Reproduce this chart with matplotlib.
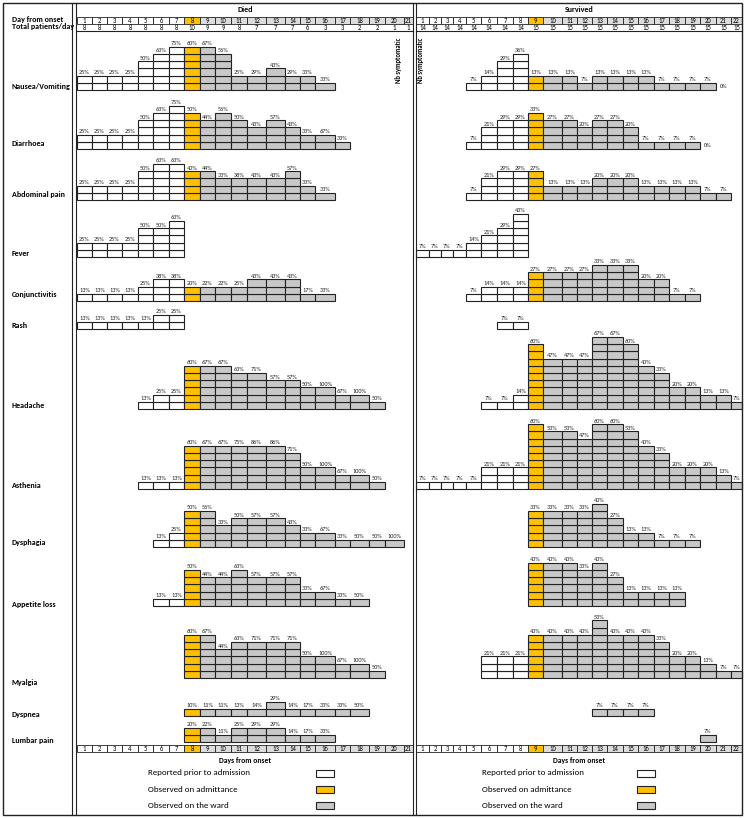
import numpy as np
import matplotlib
matplotlib.use('Agg')
import matplotlib.pyplot as plt
import matplotlib.font_manager as fm
from matplotlib.patches import Rectangle


def set_font():
    """按优先级尝试几种接近 Calibri 的字体"""
    for font in ['Carlito', 'Lato', 'Open Sans', 'DejaVu Sans']:
        try:
            fm.findfont(font, fallback_to_default=False)
            plt.rcParams['font.family'] = [font, 'DejaVu Sans']
            return font
        except Exception:
            continue


_ = None  # 该天无数据

# ---- 数据 ----
died_days = list(range(1, 22))
surv_days = list(range(1, 23))
died_total = [8, 8, 8, 8, 8, 8, 8, 10, 9, 9, 8, 7, 7, 7, 6, 3, 3, 2, 2, 1, 1]
surv_total = [14, 14, 14, 14, 14, 14, 14, 14, 15, 15, 15, 15, 15, 15, 15, 15, 15, 15, 15, 15, 15, 15]
died_admit_day = 8
surv_admit_day = 9

symptoms = ['Nausea/Vomiting', 'Diarrhoea', 'Abdominal pain', 'Fever', 'Conjunctivitis',
            'Rash', 'Headache', 'Asthenia', 'Dysphagia', 'Appetite loss', 'Myalgia',
            'Dyspnea', 'Lumbar pain']

# 百分比 (%), 按发病天数排列
nausea_died = [25, 25, 25, 25, 50, 63, 75, 60, 67, 56, 25, 29, 43, 29, 33, 33, _, _, _, _, _]
nausea_surv = [_, _, _, _, 7, 14, 29, 36, 13, 13, 13, 7, 13, 13, 13, 13, 7, 7, 7, 7, 0, _]
diarrhoea_died = [25, 25, 25, 25, 50, 63, 75, 50, 44, 56, 50, 43, 57, 43, 33, 67, 33, _, _, _, _]
diarrhoea_surv = [_, _, _, _, 7, 21, 29, 29, 33, 27, 27, 20, 27, 27, 20, 7, 7, 7, 7, 0, _, _]
abdominal_died = [25, 25, 25, 25, 50, 63, 63, 40, 44, 33, 38, 43, 43, 57, 33, 33, _, _, _, _, _]
abdominal_surv = [_, _, _, _, 7, 21, 29, 29, 27, 13, 13, 13, 20, 20, 20, 13, 13, 13, 13, 7, 7, _]
fever_died = [25, 25, 25, 25, 50, 50, 63, _, _, _, _, _, _, _, _, _, _, _, _, _, _]
fever_surv = [7, 7, 7, 7, 14, 21, 29, 43, _, _, _, _, _, _, _, _, _, _, _, _, _, _]
conj_died = [13, 13, 13, 13, 25, 38, 38, 20, 22, 22, 25, 43, 43, 43, 17, 33, _, _, _, _, _]
conj_surv = [_, _, _, _, 7, 14, 14, 14, 27, 27, 27, 27, 33, 33, 33, 20, 20, 7, 7, _, _, _]
rash_died = [13, 13, 13, 13, 13, 25, 25, _, _, _, _, _, _, _, _, _, _, _, _, _, _]
rash_surv = [_, _, _, _, _, _, 7, 7, _, _, _, _, _, _, _, _, _, _, _, _, _, _]
headache_died = [_, _, _, _, 13, 25, 25, 60, 67, 67, 63, 71, 57, 57, 50, 100, 67, 100, 50, _, _]
headache_surv = [_, _, _, _, _, 7, 7, 14, 60, 47, 47, 47, 67, 67, 60, 40, 33, 20, 20, 13, 13, 7]
asthenia_died = [_, _, _, _, 13, 13, 13, 60, 67, 67, 75, 86, 86, 71, 50, 100, 67, 100, 50, _, _]
asthenia_surv = [7, 7, 7, 7, 7, 21, 21, 21, 60, 53, 53, 47, 60, 60, 53, 40, 33, 20, 20, 20, 13, 7]
dysphagia_died = [_, _, _, _, _, 13, 25, 50, 56, 33, 50, 57, 57, 43, 33, 67, 33, 50, 50, 100, _]
dysphagia_surv = [_, _, _, _, _, _, _, _, 33, 33, 33, 33, 40, 27, 13, 13, 7, 7, 7, _, _, _]
appetite_died = [_, _, _, _, _, 13, 13, 50, 44, 44, 63, 57, 57, 57, 33, 67, 33, 50, _, _, _]
appetite_surv = [_, _, _, _, _, _, _, _, 40, 40, 40, 33, 40, 27, 13, 13, 13, 13, _, _, _, _]
myalgia_died = [_, _, _, _, _, _, _, 60, 67, 44, 63, 71, 71, 71, 50, 100, 67, 100, 50, _, _]
myalgia_surv = [_, _, _, _, _, 21, 21, 21, 40, 40, 40, 40, 53, 40, 40, 40, 33, 20, 20, 13, 7, 7]
dyspnea_died = [_, _, _, _, _, _, _, 10, 11, 11, 13, 14, 29, 14, 17, 33, 33, 50, _, _, _]
dyspnea_surv = [_, _, _, _, _, _, _, _, _, _, _, _, 7, 7, 7, 7, _, _, _, _, _, _]
lumbar_died = [_, _, _, _, _, _, _, 20, 22, 11, 25, 29, 29, 14, 17, 33, _, _, _, _, _]
lumbar_surv = [_, _, _, _, _, _, _, _, _, _, _, _, _, _, _, _, _, _, _, 7, _, _]

died_rows = [nausea_died, diarrhoea_died, abdominal_died, fever_died, conj_died, rash_died,
             headache_died, asthenia_died, dysphagia_died, appetite_died, myalgia_died,
             dyspnea_died, lumbar_died]
surv_rows = [nausea_surv, diarrhoea_surv, abdominal_surv, fever_surv, conj_surv, rash_surv,
             headache_surv, asthenia_surv, dysphagia_surv, appetite_surv, myalgia_surv,
             dyspnea_surv, lumbar_surv]

legend_labels = ['Reported prior to admission', 'Observed on admittance', 'Observed on the ward']

# ---- 版式 (像素坐标) ----
W, H = 746, 818
DIED_EDGES = [77, 92, 107, 122, 138, 153, 169, 184, 200, 215, 231, 247, 266, 285, 300,
              315, 335, 350, 369, 385, 404, 413]
SURV_EDGES = [416, 429, 441, 453, 466, 481, 497, 513, 528, 543, 562, 577, 592, 607, 623,
              638, 654, 669, 685, 700, 716, 731, 742]
BASELINES = [90, 149, 200, 257, 301, 329, 409, 489, 547, 606, 678, 716, 742]
LABEL_Y = [86, 144, 195, 253, 295, 326, 405, 485, 542, 604, 683, 715, 740]
CELL_H = 7.2
WHITE, ORANGE, GRAY, HEAD_GRAY = 'white', '#FFC000', '#C8C8C8', '#DCDCDC'
EDGE = '#222222'
FS_PCT = 4.5
FS_LAB = 5.8


def day_color(day, admit, ward=GRAY):
    if day < admit:
        return WHITE
    if day == admit:
        return ORANGE
    return ward


def draw_day_row(ax, edges, days, admit, y0, y1):
    lefts = np.array(edges[:-1], dtype=float)
    widths = np.diff(edges).astype(float)
    cols = [day_color(d, admit, HEAD_GRAY) for d in days]
    ax.bar(lefts, y1 - y0, width=widths, bottom=y0, align='edge', color=cols,
           edgecolor=EDGE, linewidth=0.6)
    for x, w, d in zip(lefts, widths, days):
        ax.text(x + w / 2, (y0 + y1) / 2 + 0.3, str(d), ha='center', va='center',
                fontsize=4.8)


def draw_panel(ax, edges, days, totals, rows, admit, title):
    lefts = np.array(edges[:-1], dtype=float)
    widths = np.diff(edges).astype(float)
    centers = lefts + widths / 2
    colors = [day_color(d, admit) for d in days]

    for pcts, base in zip(rows, BASELINES):
        counts = [None if p is None else int(p * n / 100 + 0.5) for p, n in zip(pcts, totals)]
        top = max(c for c in counts if c is not None)
        for k in range(top):
            idx = [i for i, c in enumerate(counts) if c is not None and c > k]
            ax.bar(lefts[idx], CELL_H, width=widths[idx], bottom=base - (k + 1) * CELL_H,
                   align='edge', color=[colors[i] for i in idx], edgecolor=EDGE,
                   linewidth=0.8)
        for i, (p, c) in enumerate(zip(pcts, counts)):
            if p is None:
                continue
            ax.text(centers[i], base - c * CELL_H - 0.6, f'{p}%', ha='center',
                    va='bottom', fontsize=FS_PCT, color='#222222')

    # 表头
    mid = (edges[0] + edges[-1]) / 2
    ax.text(mid, 10, title, ha='center', va='center', fontsize=5.8, fontweight='bold')
    draw_day_row(ax, edges, days, admit, 17, 24)
    for c, n in zip(centers, totals):
        ax.text(c, 27.5, str(n), ha='center', va='center', fontsize=4.8)
    ax.plot([edges[0], edges[-1]], [31, 31], color=EDGE, lw=0.8)

    # 底部天数
    draw_day_row(ax, edges, days, admit, 745, 752)
    ax.text(mid, 760, 'Days from onset', ha='center', va='center', fontsize=5.5,
            fontweight='bold')


def draw_legend(ax, text_x, box_x):
    for lab, col, y in zip(legend_labels, [WHITE, ORANGE, GRAY], [773, 789, 805]):
        ax.text(text_x, y, lab, ha='left', va='center', fontsize=6.4)
        ax.add_patch(Rectangle((box_x, y - 3.5), 18, 7, facecolor=col, edgecolor=EDGE,
                               linewidth=0.8))


set_font()
fig = plt.figure(figsize=(W / 100, H / 100), dpi=100)
ax = fig.add_axes([0, 0, 1, 1])
ax.set_xlim(0, W)
ax.set_ylim(H, 0)
ax.axis('off')

draw_panel(ax, DIED_EDGES, died_days, died_total, died_rows, died_admit_day, 'Died')
draw_panel(ax, SURV_EDGES, surv_days, surv_total, surv_rows, surv_admit_day, 'Survived')

for name, y in zip(symptoms, LABEL_Y):
    ax.text(12, y, name, ha='left', va='center', fontsize=FS_LAB, fontweight='bold')
ax.text(12, 19.5, 'Day from onset', ha='left', va='center', fontsize=FS_LAB, fontweight='bold')
ax.text(12, 26.5, 'Total patients/day', ha='left', va='center', fontsize=FS_LAB,
        fontweight='bold')

ax.text(398, 60, 'Nb symptomatic', rotation=90, ha='center', va='center', fontsize=4.8,
        fontweight='bold')
ax.text(421, 60, 'Nb symptomatic', rotation=90, ha='center', va='center', fontsize=4.8,
        fontweight='bold')

draw_legend(ax, 148, 316)
draw_legend(ax, 482, 637)

# 边框与双竖线
ax.add_patch(Rectangle((3, 3), 739, 812, fill=False, edgecolor=EDGE, linewidth=1.0))
for x in [72, 76, 413, 416]:
    ax.plot([x, x], [3, 815], color=EDGE, lw=0.8)

fig.savefig('out.png', dpi=100, facecolor='white')
plt.close(fig)
